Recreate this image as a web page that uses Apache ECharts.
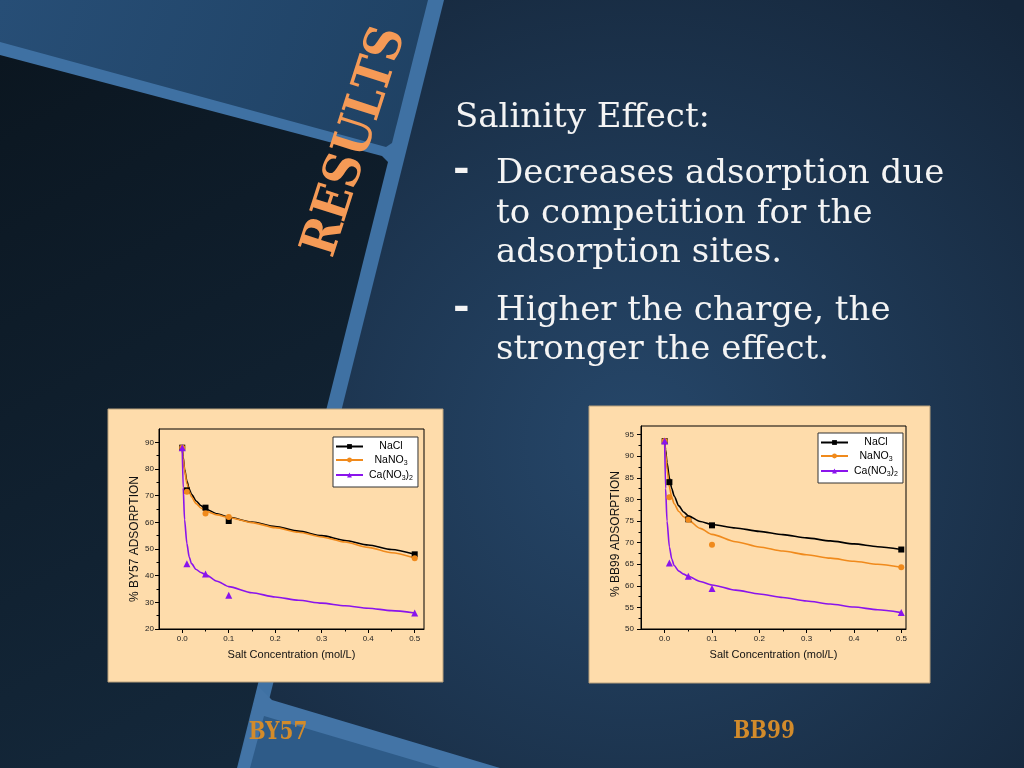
<!DOCTYPE html>
<html><head><meta charset="utf-8">
<script src="https://cdn.jsdelivr.net/npm/echarts@6/dist/echarts.min.js"></script>
<style>html,body{margin:0;padding:0;background:#1d3550;}#main{width:1024px;height:768px;}</style>
</head><body><div id="main"></div>
<script>
// ---------- data ----------
const xPoints = [0, 0.01, 0.05, 0.1, 0.5];
const by57NaCl = [88, 72, 65.5, 60.5, 48];
const by57NaNO3 = [88, 71.5, 63.3, 62, 46.5];
const by57CaNO3 = [88, 44.5, 40.6, 32.7, 26];
const bb99NaCl = [93.5, 84, 75.4, 74, 68.4];
const bb99NaNO3 = [93.5, 80.5, 75.3, 69.5, 64.3];
const bb99CaNO3 = [93.5, 65.3, 62.2, 59.4, 53.8];
// fitted curves
const fitX = [0, 0.002, 0.005, 0.01, 0.015, 0.02, 0.03, 0.04, 0.05, 0.075, 0.1, 0.15, 0.2, 0.25, 0.3, 0.35, 0.4, 0.45, 0.5];
const by57FitNaCl = [88, 84.5, 80, 75.5, 72.5, 70.5, 68, 66.3, 65, 63.2, 61.9, 60.1, 58.4, 56.7, 55, 53.2, 51.5, 49.8, 48];
const by57FitNaNO3 = [88, 84, 79.5, 74.5, 71.5, 69.5, 67, 65.4, 64.2, 62.8, 61.8, 59.9, 58, 56.3, 54.5, 52.6, 50.6, 48.6, 46.6];
const by57FitCaNO3 = [88, 73, 61, 52, 47, 44.5, 42.3, 41.2, 40.4, 37.9, 35.9, 33.6, 32, 30.8, 29.7, 28.7, 27.8, 26.9, 26];
const bb99FitNaCl = [93.5, 91.5, 88.5, 85, 82.5, 80.8, 78.5, 77.1, 76.2, 74.9, 74.2, 73.4, 72.6, 71.85, 71.1, 70.4, 69.7, 69.05, 68.4];
const bb99FitNaNO3 = [93.5, 90.8, 87, 82.8, 80.5, 79, 77.2, 76, 75.2, 73.3, 71.9, 70.2, 69, 68.05, 67.2, 66.4, 65.7, 65, 64.3];
const bb99FitCaNO3 = [93.5, 82.5, 75, 69, 66.2, 64.7, 63.4, 62.7, 62.2, 61, 60.2, 59, 58.1, 57.3, 56.5, 55.8, 55.1, 54.45, 53.8];
// ticks
const xMajorTicks = [0, 0.1, 0.2, 0.3, 0.4, 0.5];
const xMinorTicks = [0.05, 0.15, 0.25, 0.35, 0.45];
const by57YTicks = [20, 30, 40, 50, 60, 70, 80, 90];
const by57YMinor = [25, 35, 45, 55, 65, 75, 85];
const bb99YTicks = [50, 55, 60, 65, 70, 75, 80, 85, 90, 95];
const bb99YMinor = [52.5, 57.5, 62.5, 67.5, 72.5, 77.5, 82.5, 87.5, 92.5];
const saltNames = ['NaCl', 'NaNO3', 'Ca(NO3)2'];
const saltLabels = {'NaCl': '{n|NaCl}', 'NaNO3': '{n|NaNO}{s|3}', 'Ca(NO3)2': '{n|Ca(NO}{s|3}{n|)}{s|2}'};
// ---------- styles ----------
const colors = ['#000000', '#f08a1c', '#8a14ec'];
const symbols = ['rect', 'circle', 'triangle'];
const symSizes = [6, 6, 7];
const SANS = '"Liberation Sans", Arial, sans-serif';
const SERIF = '"DejaVu Serif", serif';

const pairs = (xs, ys) => xs.map((x, i) => [x, ys[i]]);

function chartSeries(gi, fits, pts) {
  const out = [];
  for (let k = 0; k < 3; k++) {
    out.push({
      type: 'line', name: saltNames[k], xAxisIndex: gi * 2, yAxisIndex: gi * 2,
      data: pairs(fitX, fits[k]), smooth: 0.25, smoothMonotone: 'x',
      symbol: symbols[k], symbolSize: symSizes[k], showSymbol: false,
      lineStyle: {color: colors[k], width: 1.6}, itemStyle: {color: colors[k]},
      z: 3, silent: true
    });
  }
  for (let k = 0; k < 3; k++) {
    out.push({
      type: 'scatter', name: saltNames[k] + ' data', xAxisIndex: gi * 2, yAxisIndex: gi * 2,
      data: pairs(xPoints, pts[k]), symbol: symbols[k], symbolSize: symSizes[k],
      itemStyle: {color: colors[k], opacity: 1}, z: 4, silent: true
    });
  }
  return out;
}

function xAxes(gi) {
  const mx = gi === 0 ? 0.52 : 0.51;
  return [{
    gridIndex: gi, type: 'value', min: -0.05, max: mx,
    splitLine: {show: false},
    axisLine: {onZero: false, lineStyle: {color: '#000', width: 1}},
    axisTick: {customValues: xMajorTicks, length: 4, lineStyle: {color: '#000'}},
    axisLabel: {customValues: xMajorTicks, formatter: v => v.toFixed(1), fontSize: 8, margin: 6, color: '#222', fontFamily: SANS},
    name: 'Salt Concentration (mol/L)', nameLocation: 'middle', nameGap: 20,
    nameTextStyle: {fontSize: 11, color: '#111', fontFamily: SANS}
  }, {
    gridIndex: gi, type: 'value', min: -0.05, max: mx, position: 'bottom',
    splitLine: {show: false}, axisLine: {show: false, onZero: false}, axisLabel: {show: false},
    axisTick: {customValues: xMinorTicks, length: 2.5, lineStyle: {color: '#000'}}
  }];
}

function yAxes(gi, min, max, major, minor, title, padRight) {
  return [{
    gridIndex: gi, type: 'value', min: min, max: max,
    splitLine: {show: false},
    axisLine: {onZero: false, lineStyle: {color: '#000', width: 1}},
    axisTick: {customValues: major, length: 4, lineStyle: {color: '#000'}},
    axisLabel: {customValues: major, fontSize: 8, margin: gi === 0 ? 5 : 7, color: '#222', fontFamily: SANS},
    name: title, nameLocation: 'middle', nameGap: gi === 0 ? 18 : 16,
    nameTextStyle: {fontSize: 12, color: '#111', fontFamily: SANS, padding: [0, padRight, 0, 0]}
  }, {
    gridIndex: gi, type: 'value', min: min, max: max, position: 'left', offset: 0,
    splitLine: {show: false}, axisLine: {show: false, onZero: false}, axisLabel: {show: false},
    axisTick: {customValues: minor, length: 2.5, lineStyle: {color: '#000'}}
  }];
}

function legendFor(left, top) {
  return {
    data: saltNames, orient: 'vertical', left: left, top: top,
    itemWidth: 27, itemHeight: 6, itemGap: 2.5,
    padding: [4, 5, 5, 2],
    backgroundColor: '#ffffff', borderColor: '#333', borderWidth: 1, borderRadius: 0,
    selectedMode: false,
    formatter: name => saltLabels[name],
    textStyle: {
      width: 46, color: '#000', fontFamily: SANS, fontSize: 10.5,
      rich: {
        n: {fontSize: 10.5, fontFamily: SANS, color: '#000', lineHeight: 14, align: 'center', verticalAlign: 'middle'},
        s: {fontSize: 7, fontFamily: SANS, color: '#000', align: 'center', verticalAlign: 'bottom'}
      }
    }
  };
}

// ---------- background shapes ----------
const bgGraphics = [
  {type: 'rect', shape: {x: 0, y: 0, width: 1024, height: 768}, z: -10,
   style: {fill: new echarts.graphic.RadialGradient(0.62, 0.58, 0.75, [
     {offset: 0, color: '#26476a'}, {offset: 1, color: '#15263a'}])}},
  {type: 'polygon', shape: {points: [[0, 0], [444, 0], [252, 768], [0, 768]]}, z: -9,
   style: {fill: '#3f71a3'}},
  {type: 'polygon', shape: {points: [[0, 0], [428, 0], [392, 143], [386, 147], [0, 42]]}, z: -8,
   style: {fill: new echarts.graphic.LinearGradient(0, 0, 1, 1, [
     {offset: 0, color: '#274e76'}, {offset: 1, color: '#1f4163'}])}},
  {type: 'polygon', shape: {points: [[0, 55], [382, 156], [388, 162], [237, 768], [0, 768]]}, z: -8,
   style: {fill: new echarts.graphic.LinearGradient(0, 0, 1, 1, [
     {offset: 0, color: '#0b1620'}, {offset: 1, color: '#152a3e'}])}},
  {type: 'polygon', shape: {points: [[258, 686], [272, 700], [500, 768], [238, 768]]}, z: -7,
   style: {fill: '#4374a6'}},
  {type: 'polygon', shape: {points: [[264, 716], [440, 768], [250, 768]]}, z: -6,
   style: {fill: '#2e5b88'}},
  {type: 'rect', shape: {x: 108, y: 409, width: 335, height: 273}, z: -5,
   style: {fill: '#fedcab', stroke: '#b8a07c', lineWidth: 1}},
  {type: 'rect', shape: {x: 589, y: 406, width: 341, height: 277}, z: -5,
   style: {fill: '#fedcab', stroke: '#b8a07c', lineWidth: 1}}
];

const textShadow = {shadowBlur: 3, shadowColor: 'rgba(0,0,0,0.7)', shadowOffsetX: 2, shadowOffsetY: 2};
function bodyText(txt, x, y, font) {
  return {type: 'text', x: x, y: y, z: 5,
    style: Object.assign({text: txt, fill: '#f4f4f4', font: font || ('34px ' + SERIF), align: 'left', verticalAlign: 'middle'}, textShadow)};
}
const textGraphics = [
  {type: 'text', x: 356, y: 142, rotation: 1.26, scaleY: 1.12, z: 5,
   style: Object.assign({text: 'RESULTS', fill: '#f59a56', font: 'bold 45px ' + SERIF, align: 'center', verticalAlign: 'middle'}, textShadow)},
  bodyText('Salinity Effect:', 455, 118),
  bodyText('-', 453, 171, 'bold 40px ' + SERIF),
  bodyText('Decreases adsorption due', 496, 174),
  bodyText('to competition for the', 496, 214),
  bodyText('adsorption sites.', 496, 253),
  bodyText('-', 453, 309, 'bold 40px ' + SERIF),
  bodyText('Higher the charge, the', 496, 311),
  bodyText('stronger the effect.', 496, 350),
  {type: 'text', x: 278, y: 732, z: 5, scaleX: 0.8,
   style: {text: 'BY57', fill: '#d28b2b', font: 'bold 25px ' + SERIF, align: 'center', verticalAlign: 'middle'}},
  {type: 'text', x: 764, y: 731, z: 5, scaleX: 0.8,
   style: {text: 'BB99', fill: '#d28b2b', font: 'bold 25px ' + SERIF, align: 'center', verticalAlign: 'middle'}}
];

const option = {
  animation: false,
  backgroundColor: 'transparent',
  graphic: {elements: bgGraphics.concat(textGraphics)},
  grid: [
    {left: 159, top: 429, width: 265, height: 200, show: true, borderColor: '#000', borderWidth: 1, backgroundColor: 'transparent'},
    {left: 641, top: 426, width: 265, height: 203, show: true, borderColor: '#000', borderWidth: 1, backgroundColor: 'transparent'}
  ],
  xAxis: xAxes(0).concat(xAxes(1)),
  yAxis: yAxes(0, 20, 95, by57YTicks, by57YMinor, '% BY57 ADSORPTION', 20)
    .concat(yAxes(1, 50, 97, bb99YTicks, bb99YMinor, '% BB99 ADSORPTION', 13)),
  legend: [legendFor(333, 437), legendFor(818, 433)],
  series: chartSeries(0, [by57FitNaCl, by57FitNaNO3, by57FitCaNO3], [by57NaCl, by57NaNO3, by57CaNO3])
    .concat(chartSeries(1, [bb99FitNaCl, bb99FitNaNO3, bb99FitCaNO3], [bb99NaCl, bb99NaNO3, bb99CaNO3]))
};

const chart = echarts.init(document.getElementById('main'), null, {renderer: 'canvas', width: 1024, height: 768});
chart.setOption(option);
</script>
</body></html>
